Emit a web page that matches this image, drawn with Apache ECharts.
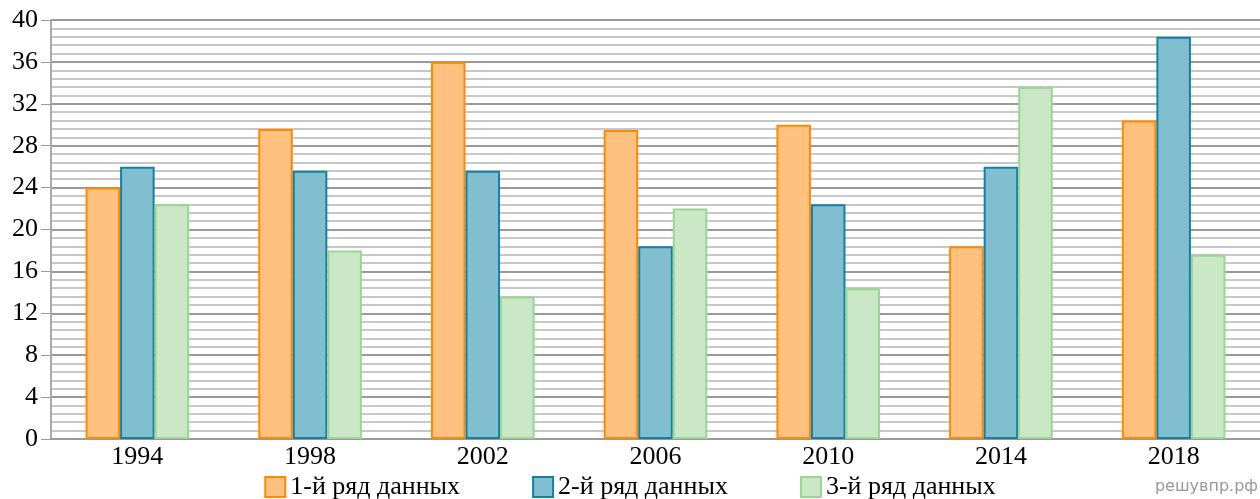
<!DOCTYPE html>
<html><head><meta charset="utf-8">
<script src="https://cdn.jsdelivr.net/npm/echarts@6/dist/echarts.min.js"></script>
<style>html,body{margin:0;padding:0;background:#fff}#c{width:1260px;height:499px}</style>
</head><body><div id="c"></div>
<script>
const categories = ['1994','1998','2002','2006','2010','2014','2018'];
const series1 = [24, 29.6, 36, 29.5, 30, 18.4, 30.4];
const series2 = [26, 25.6, 25.6, 18.4, 22.4, 26, 38.4];
const series3 = [22.4, 18, 13.6, 22, 14.4, 33.6, 17.6];
const names = ['1-й ряд данных','2-й ряд данных','3-й ряд данных'];
const yTicks = [0,4,8,12,16,20,24,28,32,36,40];

const chart = echarts.init(document.getElementById('c'));
const font = 'Liberation Serif';
function s(name, data, fill, border){
  return {name, type:'bar', data, barGap:'0%', barCategoryGap:'40%',
    itemStyle:{color:fill, borderColor:border, borderWidth:2}};
}
chart.setOption({
  animation:false,
  grid:{left:51,right:0,top:20,bottom:60,containLabel:false},
  xAxis:{type:'category', data:categories,
    axisLine:{lineStyle:{color:'#999',width:2}}, axisTick:{show:false},
    axisLabel:{color:'#000', fontFamily:font, fontSize:26, margin:5}},
  yAxis:{type:'value', min:0, max:40, interval:4,
    axisLine:{show:true, lineStyle:{color:'#aaa',width:2}},
    axisTick:{show:true, length:10, lineStyle:{color:'#999',width:1}},
    axisLabel:{color:'#000', fontFamily:font, fontSize:26, margin:13,
      formatter:v=>yTicks.includes(v)?String(v):''},
    splitLine:{lineStyle:{color:'#999',width:2}},
    minorTick:{show:false, splitNumber:5},
    minorSplitLine:{show:true, lineStyle:{color:'#c8c8c8',width:2}}},
  legend:{top:469, left:'center', itemWidth:20, itemHeight:20, itemGap:72, icon:'rect',
    textStyle:{color:'#000', fontFamily:font, fontSize:26}},
  series:[
    s(names[0], series1, '#FFC17F', '#FF8A00'),
    s(names[1], series2, '#80BED0', '#1580A2'),
    s(names[2], series3, '#CAE8C6', '#99D692')
  ],
  graphic:[{type:'text', right:2, bottom:4,
    style:{text:'решувпр.рф', fill:'#999', font:'16px "DejaVu Sans"'}}]
});
</script></body></html>
